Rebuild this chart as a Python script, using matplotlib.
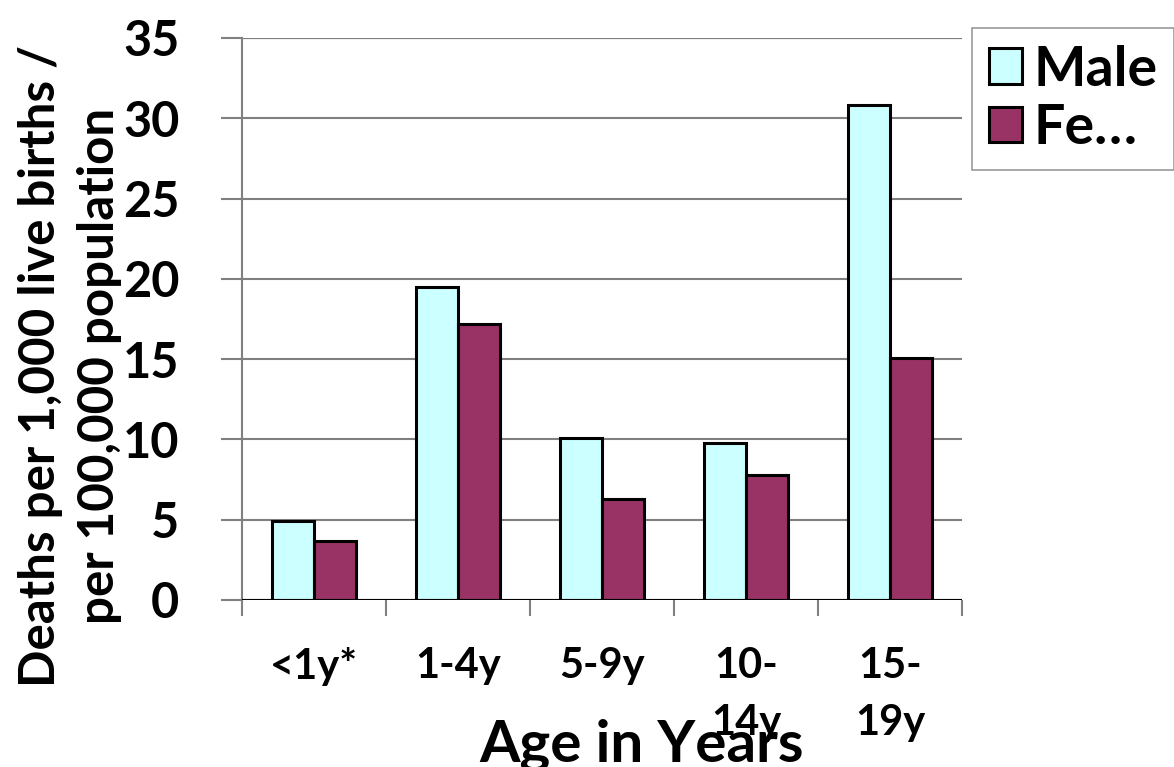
import numpy as np
import matplotlib
matplotlib.use("Agg")
import matplotlib.pyplot as plt

plt.rcParams['font.family'] = ['Lato', 'DejaVu Sans']
plt.rcParams['font.weight'] = 'bold'

# deaths by age group and sex
age_groups = ["<1y*", "1-4y", "5-9y", "10-\n14y", "15-\n19y"]
male = [4.9, 19.5, 10.1, 9.8, 30.8]
female = [3.7, 17.2, 6.3, 7.8, 15.1]
series_names = ["Male", "Fe…"]

male_color = "#CCFFFF"
female_color = "#993366"
grid_gray = "#808080"

fig = plt.figure(figsize=(11.74, 7.67), dpi=100)
ax = fig.add_axes([242 / 1174, 1 - 600 / 767, 720 / 1174, 562 / 767])

x = np.arange(len(age_groups))
w = 0.29
b1 = ax.bar(x - w / 2, male, w, color=male_color, edgecolor="black", linewidth=2.2, zorder=3)
b2 = ax.bar(x + w / 2, female, w, color=female_color, edgecolor="black", linewidth=2.2, zorder=3)

ax.set_xlim(-0.5, len(age_groups) - 0.5)
ax.set_ylim(0, 35)
ax.set_yticks(np.arange(0, 36, 5))
ax.yaxis.grid(True, color=grid_gray, linewidth=1.5, zorder=0)
ax.axhline(0, color="black", linewidth=1.5, zorder=4)
ax.axhline(35, color="#303030", linewidth=1.5, zorder=1)

for s in ["top", "right", "bottom"]:
    ax.spines[s].set_visible(False)
ax.spines["left"].set_color(grid_gray)
ax.spines["left"].set_linewidth(1.5)

ax.tick_params(axis="y", length=15, width=1.5, color=grid_gray, pad=30, labelsize=35)
ax.yaxis.get_major_ticks()[0].tick1line.set_color("black")
for lbl in ax.get_yticklabels():
    lbl.set_fontweight("bold")

ax.set_xticks(x)
ax.set_xticklabels(age_groups, fontsize=30, fontweight="bold", linespacing=1.6)
ax.set_xticks(np.arange(-0.5, len(age_groups), 1), minor=True)
ax.tick_params(axis="x", which="major", length=0, pad=34)
ax.tick_params(axis="x", which="minor", length=11.5, width=1.5, color=grid_gray)

fig.text(642 / 1174, 1 - 762 / 767, "Age in Years", fontsize=42, fontweight="bold",
         ha="center", va="baseline")
fig.text(70 / 1174, 1 - 366 / 767, "Deaths per 1,000 live births /\nper 100,000 population",
         fontsize=35.5, fontweight="bold", rotation=90, ha="center", va="center",
         multialignment="center", linespacing=1.36)

leg = fig.legend([b1, b2], series_names, loc="upper left",
                 bbox_to_anchor=(972 / 1174, 1 - 28 / 767), bbox_transform=fig.transFigure,
                 prop={"size": 40, "weight": "bold"}, frameon=True, fancybox=False,
                 handlelength=0.6, handleheight=0.6, handletextpad=0.2,
                 labelspacing=0.15, borderpad=0.3, borderaxespad=0)
leg.get_frame().set_edgecolor(grid_gray)
leg.get_frame().set_linewidth(1.2)

fig.savefig("out.png", dpi=100)
